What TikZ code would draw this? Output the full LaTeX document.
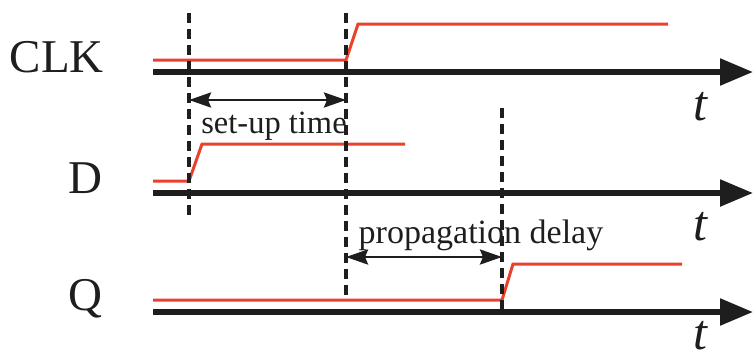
\documentclass[tikz,border=0pt]{standalone}
\usepackage{fontspec}
\setmainfont{Liberation Serif}
\usetikzlibrary{arrows.meta}
\definecolor{sigred}{RGB}{232,65,44}
\definecolor{ink}{RGB}{30,30,30}
\begin{document}
\begin{tikzpicture}[x=1pt,y=-1pt,
  timeaxis/.style={line width=5.5pt, draw=ink,
    -{Triangle[length=33pt,width=26pt]}},
  signal/.style={line width=3pt, draw=sigred, line join=miter},
  guide/.style={line width=3.2pt, draw=ink, dash pattern=on 10pt off 6pt},
  span/.style={line width=2.8pt, draw=ink,
    {Stealth[length=22pt,width=15pt,inset=3pt]}-{Stealth[length=22pt,width=15pt,inset=3pt]}},
  signame/.style={font=\fontsize{47}{47}\selectfont, text=ink, inner sep=0pt, anchor=base east},
  tlabel/.style={font=\fontsize{50}{50}\selectfont\itshape, text=ink, inner sep=0pt, anchor=base},
  note/.style={font=\fontsize{34}{34}\selectfont, text=ink, inner sep=0pt, anchor=base}]
\useasboundingbox (0,0) rectangle (753,360);

% time axes: start and end points
\coordinate (clkA) at (153,72);  \coordinate (clkB) at (753,72);
\coordinate (dA)   at (153,193); \coordinate (dB)   at (753,193);
\coordinate (qA)   at (153,312); \coordinate (qB)   at (753,312);

% waveforms
\draw[signal] (153,60) -- (346,60) -- (358,24) -- (668,24);
\draw[signal] (153,181) -- (189,181) -- (202,144) -- (405,144);
\draw[signal] (153,300) -- (502,300) -- (513,264) -- (682,264);

\draw[timeaxis] (clkA) -- (clkB);
\draw[timeaxis] (dA) -- (dB);
\draw[timeaxis] (qA) -- (qB);

% interval captions
\node[note, font=\fontsize{32.5}{32.5}\selectfont] (setup) at (274,133) {set-up time};
\node[note] (prop) at (481,243) {propagation delay};

% timing guides
\coordinate (dEdgeTop) at (189,13);  \coordinate (dEdgeBot) at (189,215);
\coordinate (cEdgeTop) at (346,13);  \coordinate (cEdgeBot) at (346,300);
\coordinate (qEdgeTop) at (502,108); \coordinate (qEdgeBot) at (502,312);
\draw[guide] (dEdgeTop) -- (dEdgeBot);
\draw[guide] (cEdgeTop) -- (cEdgeBot);
\draw[guide] (qEdgeTop) -- (qEdgeBot);

% intervals
\coordinate (suL) at (189,100); \coordinate (suR) at (346,100);
\coordinate (pdL) at (346,257); \coordinate (pdR) at (502,257);
\draw[span] (suL) -- (suR);
\draw[span] (pdL) -- (pdR);

% signal names
\node[signame] (clk) at (104,72) {CLK};
\node[signame] (d) at (103,193) {D};
\node[signame] (q) at (103,310) {Q};

% time labels
\node[tlabel] (t1) at (700,120) {t};
\node[tlabel] (t2) at (700,240) {t};
\node[tlabel] (t3) at (700,349) {t};
\end{tikzpicture}
\end{document}
